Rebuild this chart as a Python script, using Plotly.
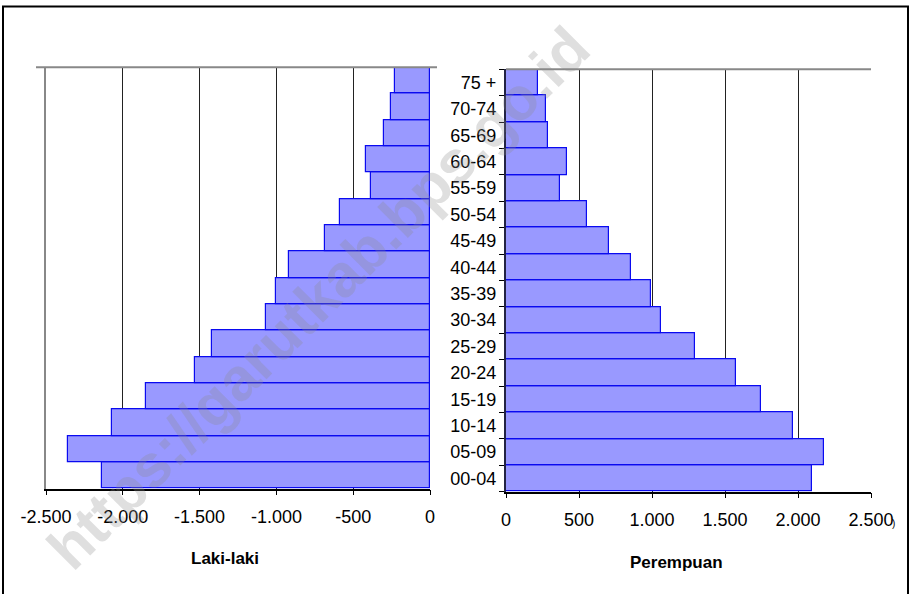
import plotly.graph_objects as go

# ---- data ----
age_groups = ["00-04", "05-09", "10-14", "15-19", "20-24", "25-29", "30-34", "35-39",
              "40-44", "45-49", "50-54", "55-59", "60-64", "65-69", "70-74", "75 +"]
laki_laki = [2135, 2357, 2070, 1849, 1530, 1419, 1068, 1001, 916, 684, 584, 386, 419, 300, 254, 228]
perempuan = [2093, 2175, 1967, 1746, 1574, 1295, 1064, 994, 855, 704, 553, 370, 416, 286, 274, 217]
left_ticks = [-2500, -2000, -1500, -1000, -500, 0]
left_ticktext = ["-2.500", "-2.000", "-1.500", "-1.000", "-500", "0"]
right_ticks = [0, 500, 1000, 1500, 2000, 2500]
right_ticktext = ["0", "500", "1.000", "1.500", "2.000", "2.500"]

W, H = 911, 594
FONT = "Liberation Sans, Arial, sans-serif"
BAR_FILL = "#9999FF"
BAR_LINE = "#0A0AF0"

def px(x):
    return x / W

def py(y):
    return (H - y) / H

fig = go.Figure()
fig.add_trace(go.Bar(
    y=age_groups, x=[-v for v in laki_laki], orientation="h",
    marker=dict(color=BAR_FILL, line=dict(color=BAR_LINE, width=1.2)),
    xaxis="x", yaxis="y", showlegend=False, hoverinfo="skip"))
fig.add_trace(go.Bar(
    y=age_groups, x=perempuan, orientation="h",
    marker=dict(color=BAR_FILL, line=dict(color=BAR_LINE, width=1.2)),
    xaxis="x2", yaxis="y2", showlegend=False, hoverinfo="skip"))

tickfont = dict(family=FONT, size=18, color="black")

fig.update_layout(
    template="none",
    width=W, height=H,
    margin=dict(l=0, r=0, t=0, b=0, pad=0),
    paper_bgcolor="white", plot_bgcolor="white",
    bargap=0,
    xaxis=dict(domain=[px(46), px(430)], range=[-2500, 0], anchor="y", automargin=False,
               tickvals=left_ticks, ticktext=left_ticktext, tickfont=tickfont,
               ticklabelstandoff=6,
               showgrid=True, gridcolor="#222222", gridwidth=1, zeroline=False,
               showline=True, linecolor="black", linewidth=1.5,
               ticks="outside", ticklen=5, tickcolor="black", fixedrange=True),
    yaxis=dict(domain=[py(488.7), py(67.3)], anchor="x", type="category", automargin=False,
               categoryorder="array", categoryarray=age_groups,
               showticklabels=False, ticks="", showgrid=False, zeroline=False,
               showline=True, linecolor="#888888", linewidth=2, fixedrange=True),
    xaxis2=dict(domain=[px(506), px(871)], range=[0, 2500], anchor="y2", automargin=False,
                tickvals=right_ticks, ticktext=right_ticktext, tickfont=tickfont,
                ticklabelstandoff=6,
                showgrid=True, gridcolor="#222222", gridwidth=1, zeroline=False,
                showline=True, linecolor="black", linewidth=1.5,
                ticks="outside", ticklen=5, tickcolor="black", fixedrange=True),
    yaxis2=dict(domain=[py(491.7), py(69.3)], anchor="x2", type="category", automargin=False,
                categoryorder="array", categoryarray=age_groups,
                tickfont=tickfont, ticks="outside", tickson="boundaries",
                ticklen=5, tickcolor="black", ticklabelstandoff=4,
                showgrid=False, zeroline=False,
                showline=True, linecolor="#222244", linewidth=2, fixedrange=True),
)

shapes = [
    # outer frame
    dict(type="rect", xref="paper", yref="paper", x0=px(3), x1=px(908), y0=-0.05, y1=py(6.5),
         line=dict(color="black", width=2), fillcolor="rgba(0,0,0,0)", layer="above"),
    # top gray lines of the plot areas
    dict(type="line", xref="paper", yref="paper", x0=px(36), x1=px(437), y0=py(67.3), y1=py(67.3),
         line=dict(color="#888888", width=2)),
    dict(type="line", xref="paper", yref="paper", x0=px(506), x1=px(871), y0=py(69.3), y1=py(69.3),
         line=dict(color="#888888", width=2)),
]
fig.update_layout(shapes=shapes)

annotations = [
    dict(text="<b>Laki-laki</b>", x=px(225), y=py(558), xref="paper", yref="paper",
         showarrow=False, xanchor="center", yanchor="middle",
         font=dict(family=FONT, size=17, color="black")),
    dict(text="<b>Perempuan</b>", x=px(676), y=py(562), xref="paper", yref="paper",
         showarrow=False, xanchor="center", yanchor="middle",
         font=dict(family=FONT, size=17, color="black")),
    dict(text=")", x=px(893), y=py(523), xref="paper", yref="paper",
         showarrow=False, xanchor="center", yanchor="middle",
         font=dict(family=FONT, size=10, color="black")),
    dict(text="<b>https://garutkab.bps.go.id</b>", x=px(318), y=py(298), xref="paper", yref="paper",
         showarrow=False, xanchor="center", yanchor="middle", textangle=-45,
         font=dict(family=FONT, size=60, color="rgba(140,140,140,0.28)")),
]
fig.update_layout(annotations=annotations)

fig.write_html("out.html", config={"displayModeBar": False},
               post_script="document.body.style.margin='0';document.body.style.overflow='hidden';")
